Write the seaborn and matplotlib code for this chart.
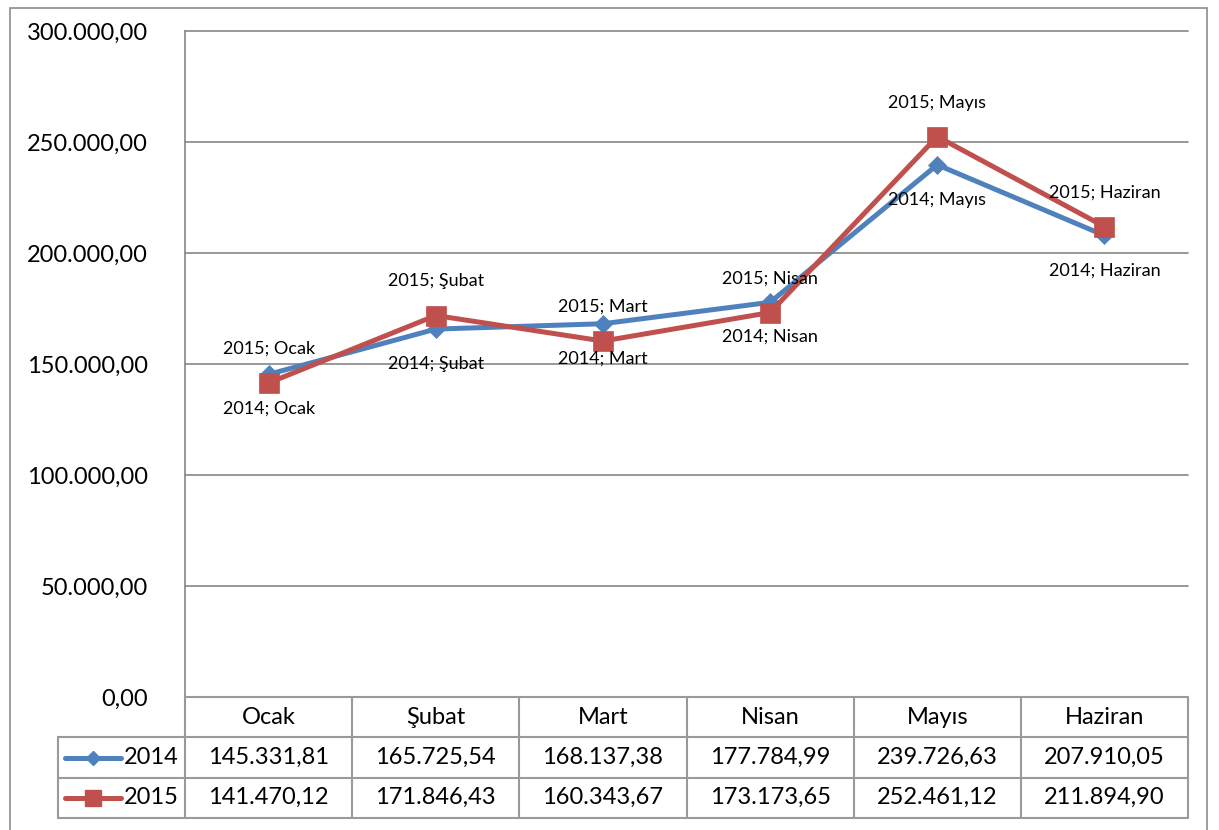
import matplotlib
matplotlib.use("Agg")
import matplotlib.pyplot as plt
from matplotlib.patches import Rectangle
from matplotlib.lines import Line2D
import seaborn as sns
import pandas as pd

months = ["Ocak", "Şubat", "Mart", "Nisan", "Mayıs", "Haziran"]
years = ["2014", "2015"]
values_2014 = [145331.81, 165725.54, 168137.38, 177784.99, 239726.63, 207910.05]
values_2015 = [141470.12, 171846.43, 160343.67, 173173.65, 252461.12, 211894.90]
y_ticks = [0, 50000, 100000, 150000, 200000, 250000, 300000]

sns.set_style("white")
plt.rcParams["font.family"] = ["Lato", "DejaVu Sans"]

BLUE = "#4F81BD"
RED = "#C0504D"
GRID = "#868686"
TXT = "#000000"


def tr(v):
    s = f"{v:,.2f}"
    return s.replace(",", "X").replace(".", ",").replace("X", ".")


df = pd.DataFrame({
    "pos": list(range(len(months))) * 2,
    "month": months * 2,
    "year": [years[0]] * len(months) + [years[1]] * len(months),
    "value": values_2014 + values_2015,
})

W, H = 1219, 830
fig = plt.figure(figsize=(W / 100, H / 100), dpi=100)


def fx(px):
    return px / W


def fy(py):
    return 1 - py / H


# outer chart frame
fig.add_artist(Rectangle((fx(10), -0.02), fx(1207) - fx(10), fy(8) + 0.02,
                         transform=fig.transFigure, fill=False,
                         edgecolor="#8C8C8C", lw=1.2))

ax = fig.add_axes([fx(185), fy(697), fx(1188) - fx(185), fy(31) - fy(697)])
ax.set_xlim(-0.5, 5.5)
ax.set_ylim(0, 300000)

for t in y_ticks:
    ax.axhline(t, color=GRID, lw=1.2, zorder=1, clip_on=False)

styles = {"2014": dict(color=BLUE, marker="D", ms=9.5, lms=7.5),
          "2015": dict(color=RED, marker="s", ms=14, lms=12)}
for yr in years:
    sub = df[df["year"] == yr]
    st = styles[yr]
    sns.lineplot(data=sub, x="pos", y="value", ax=ax, color=st["color"],
                 lw=3.6, marker=st["marker"], markersize=st["ms"],
                 markeredgecolor=st["color"], markeredgewidth=0.5,
                 zorder=3 if yr == "2014" else 4, legend=False)

# data labels
for i, m in enumerate(months):
    ax.annotate(f"2014; {m}", (i, values_2014[i]), xytext=(0, -25),
                textcoords="offset points", ha="center", va="center",
                fontsize=13, color=TXT, zorder=6)
    ax.annotate(f"2015; {m}", (i, values_2015[i]), xytext=(0, 24.5),
                textcoords="offset points", ha="center", va="center",
                fontsize=13, color=TXT, zorder=6)

ax.set_yticks(y_ticks)
ax.set_yticklabels([tr(t) for t in y_ticks], fontsize=17, color=TXT)
ax.set_xticks([])
ax.tick_params(axis="y", length=0, pad=26.5)
ax.set_xlabel("")
ax.set_ylabel("")
for s in ["top", "right", "bottom"]:
    ax.spines[s].set_visible(False)
ax.spines["left"].set_color(GRID)
ax.spines["left"].set_linewidth(1.2)

# data table
tax = fig.add_axes([fx(185), fy(818), fx(1188) - fx(185), fy(697) - fy(818)])
tax.set_xlim(-0.5, 5.5)
tax.set_ylim(0, 3)
tax.axis("off")
xl = -0.5 + (58 - 185) / ((1188 - 185) / 6)
TB = "#9A9A9A"
kw = dict(color=TB, lw=1.5, clip_on=False)
tax.plot([-0.5, 5.5], [3, 3], **kw)
for yy in [2, 1, 0]:
    tax.plot([xl, 5.5], [yy, yy], **kw)
tax.plot([xl, xl], [0, 2], **kw)
for i in range(len(months) + 1):
    tax.plot([i - 0.5, i - 0.5], [0, 3], **kw)

for i, m in enumerate(months):
    tax.text(i, 2.5, m, ha="center", va="center", fontsize=17, color=TXT)
    tax.text(i, 1.5, tr(values_2014[i]), ha="center", va="center", fontsize=17, color=TXT)
    tax.text(i, 0.5, tr(values_2015[i]), ha="center", va="center", fontsize=17, color=TXT)

px = (1188 - 185) / 6
lx0 = -0.5 + (65 - 185) / px
lx1 = -0.5 + (121 - 185) / px
lxm = (lx0 + lx1) / 2
ltx = -0.5 + (124 - 185) / px
for yr, yy in zip(years, [1.5, 0.5]):
    st = styles[yr]
    tax.add_line(Line2D([lx0, lx1], [yy, yy], color=st["color"], lw=3.6,
                        solid_capstyle="round", clip_on=False))
    tax.add_line(Line2D([lxm], [yy], color=st["color"], marker=st["marker"],
                        ms=st["lms"], markeredgecolor=st["color"], clip_on=False))
    tax.text(ltx, yy, yr, ha="left", va="center", fontsize=17, color=TXT)

fig.savefig("out.png", dpi=100)
